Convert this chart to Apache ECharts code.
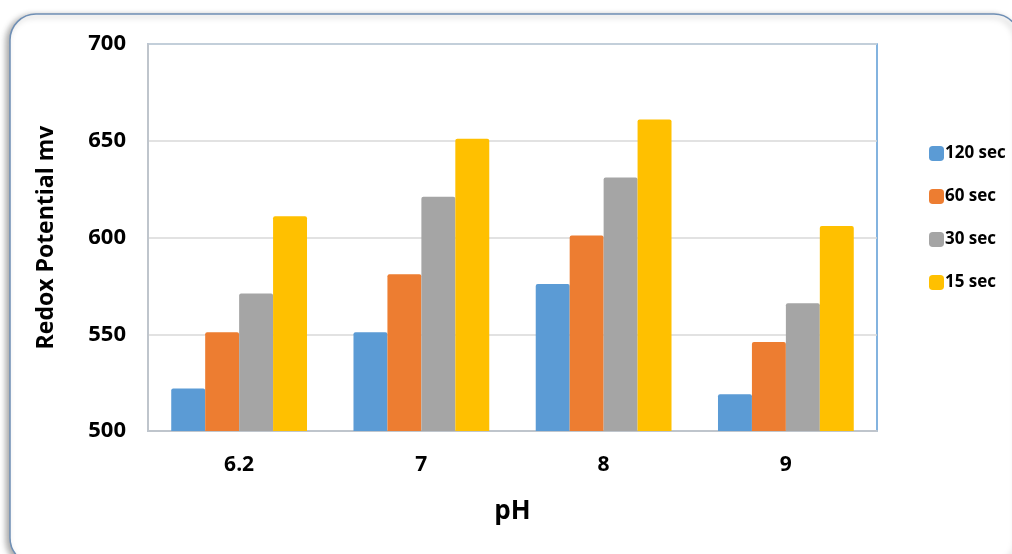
<!DOCTYPE html>
<html><head><meta charset="utf-8">
<script src="https://cdn.jsdelivr.net/npm/echarts@6/dist/echarts.min.js"></script>
<style>html,body{margin:0;padding:0;background:#fff;}#c{width:1012px;height:554px;}</style>
</head><body><div id="c"></div>
<script>
const categories = ['6.2', '7', '8', '9'];
const seriesNames = ['120 sec', '60 sec', '30 sec', '15 sec'];
const s120 = [522, 551, 576, 519];
const s60 = [551, 581, 601, 546];
const s30 = [571, 621, 631, 566];
const s15 = [611, 651, 661, 606];
const yTicks = [500, 550, 600, 650, 700];
const colors = ['#5B9BD5', '#ED7D31', '#A5A5A5', '#FFC000'];
const values = [s120, s60, s30, s15];

const font = '"Open Sans", sans-serif';
const chart = echarts.init(document.getElementById('c'), null, {renderer: 'canvas'});
chart.setOption({
  backgroundColor: '#fff',
  animation: false,
  graphic: [{
    type: 'rect', z: -10,
    shape: {x: 10, y: 14, width: 1010, height: 550, r: 26},
    style: {fill: '#fff', stroke: '#6F8FB5', lineWidth: 1.5, shadowColor: 'rgba(0,0,0,0.35)', shadowBlur: 6, shadowOffsetX: -3, shadowOffsetY: 2}
  }],
  grid: {left: 148, right: 135, top: 44, bottom: 123, show: true, borderColor: '#5B9BD5', borderWidth: 1.5, backgroundColor: 'transparent'},
  legend: {
    orient: 'vertical', left: 924, top: 140, itemGap: 26, itemWidth: 15, itemHeight: 15,
    icon: 'roundRect',
    textStyle: {fontFamily: font, fontWeight: 'bold', fontSize: 17, color: '#000', padding: [0, 0, 0, -4]},
    data: seriesNames
  },
  xAxis: {
    type: 'category', data: categories,
    name: 'pH', nameLocation: 'middle', nameGap: 68,
    nameTextStyle: {fontFamily: font, fontWeight: 'bold', fontSize: 26, color: '#000'},
    axisLine: {lineStyle: {color: '#BFC5CC', width: 2}},
    axisTick: {show: false},
    axisLabel: {fontFamily: font, fontWeight: 'bold', fontSize: 21, color: '#000', margin: 24}
  },
  yAxis: {
    type: 'value', min: 500, max: 700, interval: 50,
    name: 'Redox Potential mv', nameLocation: 'middle', nameGap: 90, nameRotate: 90,
    nameTextStyle: {fontFamily: font, fontWeight: 'bold', fontSize: 23, color: '#000'},
    axisLine: {show: true, lineStyle: {color: '#BFC5CC', width: 2}},
    axisTick: {show: false},
    splitLine: {lineStyle: {color: '#D9D9D9', width: 1.5}},
    axisLabel: {fontFamily: font, fontWeight: 'bold', fontSize: 22, color: '#000', margin: 22,
      formatter: v => yTicks.includes(v) ? String(v) : ''}
  },
  series: seriesNames.map((n, i) => ({
    name: n, type: 'bar', data: values[i],
    barGap: '0%', barCategoryGap: '25.5%',
    itemStyle: {color: colors[i], borderRadius: [2, 2, 0, 0]}
  }))
});
</script></body></html>
